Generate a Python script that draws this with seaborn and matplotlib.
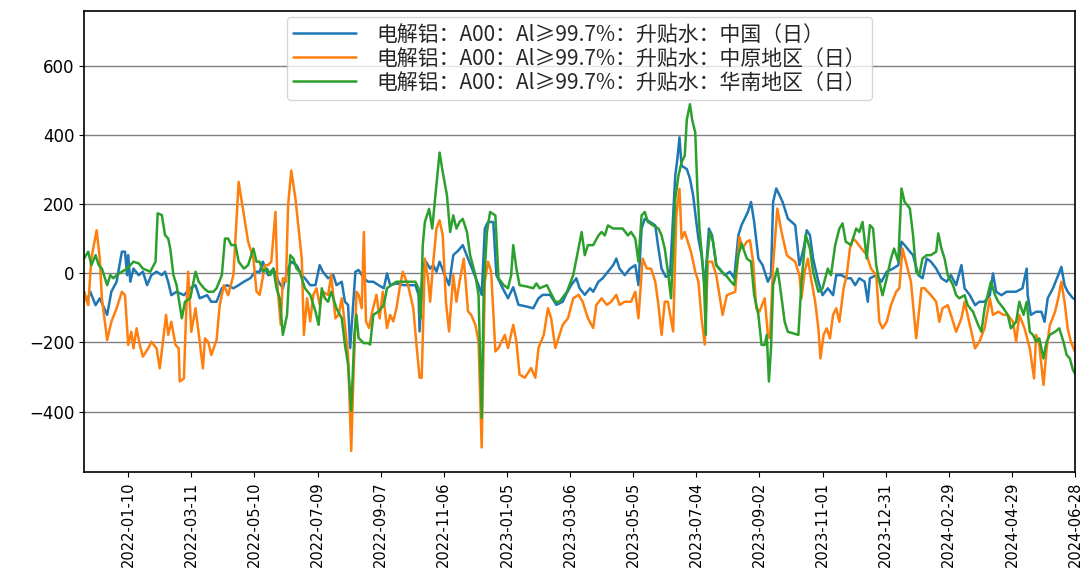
import pandas as pd
import matplotlib.pyplot as plt
import matplotlib.dates as mdates
import seaborn as sns

# 日期以 2021-11-29 为起点的天数
start = pd.Timestamp("2021-11-29")
end = pd.Timestamp("2024-06-28")

names = [
    "电解铝：A00：Al≥99.7%：升贴水：中国（日）",
    "电解铝：A00：Al≥99.7%：升贴水：中原地区（日）",
    "电解铝：A00：Al≥99.7%：升贴水：华南地区（日）",
]
colors = ["#1f77b4", "#ff7f0e", "#2ca02c"]

# 中国
cn_days = [0, 3, 6, 11, 15, 22, 26, 31, 36, 39,
           41, 42, 44, 47, 52, 56, 60, 64, 69, 74,
           77, 80, 83, 88, 95, 101, 106, 110, 117, 121,
           126, 131, 136, 142, 147, 152, 158, 163, 167, 170,
           175, 180, 185, 189, 194, 197, 202, 207, 210, 215,
           220, 224, 227, 232, 237, 240, 245, 248, 251, 253,
           258, 261, 266, 270, 275, 280, 285, 288, 291, 297,
           304, 310, 315, 318, 319, 322, 325, 329, 332, 335,
           338, 343, 347, 351, 356, 360, 365, 370, 375, 378,
           381, 384, 389, 392, 398, 403, 408, 413, 421, 427,
           432, 436, 443, 449, 455, 458, 463, 468, 471, 476,
           481, 484, 489, 493, 498, 503, 506, 509, 514, 519,
           524, 527, 530, 533, 538, 543, 546, 549, 553, 557,
           562, 564, 566, 568, 573, 576, 579, 582, 584, 587,
           590, 594, 597, 601, 604, 609, 614, 618, 622, 625,
           628, 631, 634, 637, 641, 645, 650, 653, 655, 658,
           661, 664, 669, 676, 680, 684, 687, 690, 693, 698,
           702, 707, 712, 715, 720, 725, 729, 733, 737, 742,
           745, 747, 753, 758, 763, 769, 774, 777, 780, 785,
           788, 793, 797, 801, 805, 810, 815, 820, 824, 829,
           834, 837, 842, 847, 851, 856, 861, 864, 867, 872,
           877, 881, 886, 892, 896, 897, 900, 905, 910, 913,
           916, 921, 926, 929, 932, 935, 940, 942]
cn_vals = [-53, -82, -53, -92, -72, -120, -53, -24, 63, 63,
           -5, 53, -24, 14, -5, 5, -34, -5, 5, -5,
           5, -24, -63, -53, -63, -43, -34, -72, -63, -82,
           -82, -43, -34, -43, -34, -24, -14, 5, 5, 34,
           -5, 14, -24, -43, 14, 34, 24, -5, -14, -34,
           -34, 24, 5, -14, -5, -34, -24, -82, -91, -216,
           5, 10, -14, -24, -24, -34, -43, 0, -34, -29,
           -34, -34, -34, -62, -168, 24, 34, 14, 24, 5,
           34, -5, -34, 53, 67, 82, 43, 5, -34, -62,
           130, 149, 149, -5, -43, -72, -40, -91, -96, -101,
           -72, -62, -62, -91, -82, -62, -34, -14, -43, -62,
           -43, -53, -24, -14, 5, 24, 43, 14, -5, 14,
           24, -34, 130, 158, 149, 139, 72, 14, -10, -5,
           283, 331, 394, 312, 302, 274, 226, 149, 101, 53,
           -43, 130, 110, 24, 14, -5, 5, -14, 111, 140,
           159, 178, 207, 149, 43, 24, -24, -5, 207, 246,
           227, 207, 159, 140, 24, 72, 125, 111, 43, -24,
           -63, -43, -63, -5, -5, -14, -14, -34, -14, -24,
           -82, -14, -5, -24, 5, 14, 24, 92, 82, 63,
           53, -5, -14, 43, 34, 14, -14, -24, -5, -34,
           24, -43, -63, -92, -82, -82, -63, 0, -53, -63,
           -53, -53, -53, -43, 14, -63, -120, -111, -111, -140,
           -72, -43, -5, 19, -34, -53, -72, -75]

# 中原地区
zy_days = [0, 4, 7, 12, 15, 17, 22, 26, 31, 36,
           39, 42, 45, 47, 50, 53, 56, 61, 64, 69,
           72, 75, 78, 80, 83, 87, 90, 91, 95, 97,
           99, 102, 106, 110, 113, 115, 118, 121, 126, 129,
           133, 137, 142, 147, 152, 156, 161, 164, 167, 172,
           175, 178, 182, 184, 187, 189, 192, 194, 197, 201,
           204, 207, 209, 212, 215, 218, 221, 224, 227, 232,
           235, 239, 242, 245, 248, 251, 254, 256, 259, 261,
           264, 266, 268, 271, 274, 278, 281, 284, 288, 291,
           294, 297, 300, 303, 308, 313, 316, 319, 321, 324,
           327, 329, 332, 335, 338, 341, 344, 347, 351, 354,
           357, 361, 365, 368, 372, 375, 378, 381, 384, 387,
           391, 394, 397, 400, 403, 408, 411, 414, 419, 425,
           429, 432, 437, 441, 444, 448, 452, 455, 460, 465,
           470, 474, 479, 484, 487, 492, 497, 501, 506, 509,
           514, 520, 524, 527, 531, 535, 539, 543, 546, 549,
           552, 555, 560, 563, 566, 568, 571, 574, 577, 581,
           584, 587, 590, 593, 597, 601, 607, 611, 615, 619,
           623, 626, 630, 633, 636, 639, 642, 647, 650, 652,
           655, 659, 663, 668, 672, 676, 680, 682, 685, 688,
           691, 695, 698, 700, 703, 706, 709, 712, 715, 718,
           722, 725, 728, 731, 734, 739, 744, 748, 753, 756,
           759, 763, 767, 772, 775, 778, 782, 786, 791, 796,
           799, 805, 810, 813, 816, 821, 824, 829, 834, 837,
           842, 847, 851, 856, 861, 864, 869, 874, 878, 883,
           886, 889, 894, 899, 903, 905, 908, 912, 915, 918,
           923, 926, 929, 932, 935, 938, 942]
zy_vals = [-53, -92, 43, 125, 43, -72, -193, -140, -101, -53,
           -63, -207, -169, -217, -159, -207, -241, -217, -198, -217,
           -275, -198, -120, -178, -140, -207, -217, -313, -304, -120,
           5, -169, -101, -198, -275, -188, -198, -236, -193, -92,
           -34, -63, -5, 265, 169, 92, 43, -53, -62, 24,
           24, 34, 178, -43, -149, -14, -24, 197, 298, 216,
           130, 43, -178, -72, -139, -62, -43, -91, -53, -62,
           -5, -130, -120, -72, -149, -235, -514, -312, -53, -62,
           -101, 120, -139, -158, -110, -62, -130, -53, -158, -120,
           -139, -101, -43, 5, -34, -101, -206, -302, -302, 43,
           -14, -82, 34, 130, 154, 110, -82, -168, -5, -82,
           -24, 43, -110, -120, -149, -197, -504, -24, 34, 5,
           -226, -216, -197, -178, -216, -149, -197, -293, -302, -274,
           -302, -216, -178, -101, -130, -216, -178, -149, -130, -72,
           -62, -82, -130, -158, -91, -72, -91, -82, -62, -91,
           -82, -82, -53, -130, 43, 14, 14, -24, -91, -178,
           -82, -82, -168, 168, 245, 101, 120, 91, 62, 5,
           -24, -130, -206, 34, 34, -5, -120, -63, -58, -53,
           106, 72, 92, 96, 34, -101, -111, -72, -178, -188,
           24, 188, 120, 53, 43, 34, -5, -72, 5, 43,
           -14, -82, -159, -246, -178, -159, -188, -120, -101, -140,
           -43, -5, 72, 101, 92, 72, 53, 14, -5, -140,
           -159, -140, -92, -53, -43, 72, 24, -24, -188, -43,
           -43, -63, -82, -140, -101, -92, -120, -169, -130, -82,
           -150, -217, -198, -159, -72, -120, -111, -120, -120, -140,
           -198, -120, -159, -217, -304, -178, -207, -323, -217, -150,
           -111, -72, -24, -82, -159, -198, -227]

# 华南地区
hn_days = [0, 4, 7, 11, 14, 17, 22, 25, 28, 31,
           36, 41, 47, 52, 56, 63, 68, 70, 74, 77,
           80, 82, 85, 88, 91, 93, 96, 101, 106, 109,
           114, 118, 123, 126, 131, 134, 137, 140, 144, 147,
           152, 156, 161, 164, 167, 170, 174, 177, 180, 183,
           186, 189, 193, 196, 199, 202, 205, 210, 215, 220,
           223, 226, 229, 232, 235, 240, 245, 248, 251, 254,
           257, 259, 261, 266, 270, 272, 275, 280, 285, 288,
           292, 297, 307, 315, 318, 320, 322, 324, 328, 331,
           334, 338, 341, 345, 348, 351, 354, 357, 360, 364,
           367, 372, 375, 378, 380, 383, 386, 391, 394, 399,
           403, 406, 408, 411, 414, 421, 427, 430, 433, 440,
           443, 448, 452, 459, 465, 470, 473, 476, 479, 484,
           489, 492, 495, 498, 503, 508, 512, 517, 520, 524,
           527, 530, 533, 536, 541, 546, 549, 552, 555, 558,
           562, 565, 568, 571, 573, 576, 578, 581, 583, 585,
           589, 591, 592, 595, 598, 601, 606, 610, 615, 618,
           622, 625, 630, 634, 637, 641, 644, 647, 649, 651,
           653, 655, 659, 661, 666, 669, 679, 682, 686, 690,
           693, 698, 702, 707, 710, 714, 718, 721, 724, 729,
           734, 737, 740, 744, 747, 750, 753, 756, 759, 763,
           767, 770, 774, 777, 780, 785, 788, 791, 794, 797,
           801, 805, 810, 812, 815, 818, 821, 826, 829, 832,
           837, 840, 845, 850, 853, 856, 859, 862, 866, 869,
           874, 878, 881, 886, 889, 893, 896, 899, 902, 905,
           908, 912, 915, 918, 923, 927, 931, 934, 937, 940,
           942]
hn_vals = [43, 63, 24, 53, 24, 14, -34, -5, -14, -5,
           5, 14, 34, 29, 14, 5, 34, 174, 169, 111,
           101, 72, -5, -34, -92, -130, -82, -72, 5, -24,
           -43, -53, -53, -43, -5, 101, 101, 82, 82, 34,
           14, 24, 72, 34, 34, 5, 14, -5, 14, -43,
           -72, -178, -120, 53, 43, 14, 5, -43, -62, -110,
           -149, -43, -72, -82, -53, -101, -130, -206, -264, -398,
           -178, -120, -187, -202, -202, -206, -120, -110, -91, -43,
           -34, -24, -24, -24, -43, -130, 82, 149, 187, 130,
           226, 350, 293, 226, 120, 168, 130, 149, 158, 120,
           53, -5, -62, -418, -43, 120, 178, 168, -14, -34,
           -43, -5, 82, 14, -34, -38, -43, -29, -43, -34,
           -53, -82, -82, -53, -5, 72, 120, 53, 82, 82,
           110, 120, 110, 139, 130, 130, 130, 110, 120, 101,
           34, 168, 178, 149, 139, 130, 110, 72, 5, -72,
           216, 283, 322, 341, 446, 490, 446, 408, 245, 130,
           -5, -178, 34, 120, 91, 24, 5, -5, -24, -34,
           53, 87, 43, 34, -63, -120, -207, -207, -178, -313,
           -217, -34, 14, -24, -140, -169, -178, -24, 111, 72,
           5, -53, -43, 14, -5, 82, 130, 145, 92, 82,
           130, 120, 149, 43, 140, 130, 24, -24, -63, -14,
           43, 72, 34, 246, 207, 188, 111, 5, -5, 43,
           53, 53, 63, 116, 72, 43, -5, -34, -63, -72,
           -63, -92, -111, -150, -169, -101, -63, -24, -63, -82,
           -101, -120, -159, -140, -82, -120, -82, -169, -178, -198,
           -188, -246, -198, -178, -169, -159, -198, -236, -246, -280,
           -290]

y_ticks = [-400, -200, 0, 200, 400, 600]

frames = []
for name, days, vals in zip(names, [cn_days, zy_days, hn_days], [cn_vals, zy_vals, hn_vals]):
    frames.append(pd.DataFrame({
        "日期": start + pd.to_timedelta(days, unit="D"),
        "升贴水": vals,
        "系列": name,
    }))
df = pd.concat(frames, ignore_index=True)

sns.set_style("ticks", {"axes.edgecolor": "black", "xtick.color": "black", "ytick.color": "black"})
plt.rcParams["font.family"] = ["DejaVu Sans", "Noto Sans CJK SC"]

fig, ax = plt.subplots(figsize=(10.81, 5.69), dpi=100)
fig.subplots_adjust(left=0.0777, right=0.9945, top=0.9807, bottom=0.1705)

sns.lineplot(data=df, x="日期", y="升贴水", hue="系列", palette=colors,
             estimator=None, linewidth=1.8, ax=ax)

ax.grid(axis="y", color="#808080", linewidth=1.0)
ax.set_axisbelow(True)
ax.set_xlim(start, end)
ax.set_ylim(-575, 760)
ax.set_yticks(y_ticks)
ax.set_xticks(pd.date_range(end=end, periods=16, freq="60D"))
ax.xaxis.set_major_formatter(mdates.DateFormatter("%Y-%m-%d"))
ax.tick_params(axis="x", labelsize=10.5, rotation=90)
ax.tick_params(axis="y", labelsize=12)
ax.set_xlabel("")
ax.set_ylabel("")
for s in ax.spines.values():
    s.set_linewidth(1.2)

handles, labels = ax.get_legend_handles_labels()
ax.legend(handles, labels, loc="upper center",
          prop={"family": ["Noto Sans CJK SC", "DejaVu Sans"], "size": 15},
          labelspacing=0.1, borderpad=0.3, handlelength=3, handletextpad=1,
          borderaxespad=0.3)

plt.savefig("out.png")
plt.close()
